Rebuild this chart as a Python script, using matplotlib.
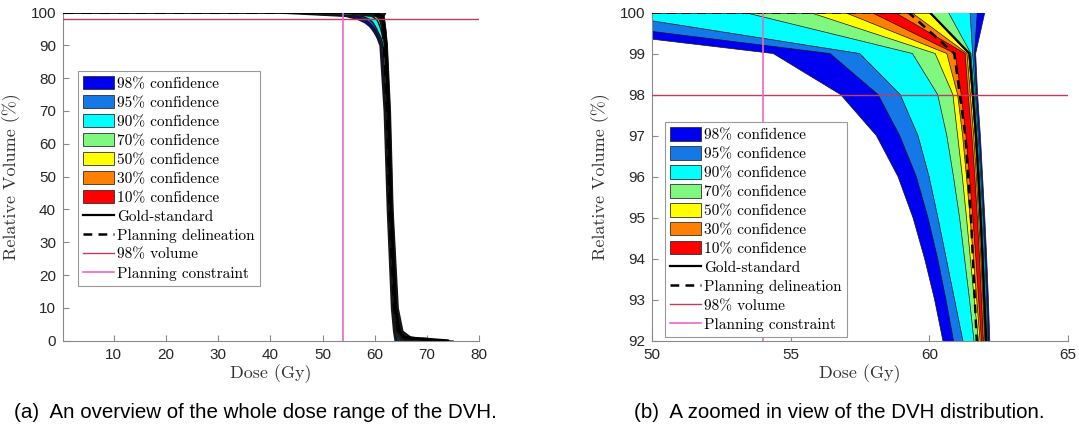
import matplotlib
matplotlib.use("Agg")
import matplotlib.pyplot as plt
from matplotlib.patches import Patch
from matplotlib.lines import Line2D

# Relative volume levels (%) at which the dose quantiles are tabulated
volume = [100, 99, 98, 97, 96, 95, 94, 93, 92, 90, 70, 40, 10, 3, 1, 0]

# Dose (Gy) bounds of each confidence band, lower / upper
lower_98 = [41.9, 54.37, 56.8, 58.09, 58.87, 59.41, 59.83, 60.19, 60.49, 60.95, 61.75, 62.35, 63.15, 63.55, 63.75, 63.85]
upper_98 = [62.0, 61.67, 61.74, 61.84, 61.92, 62.0, 62.07, 62.13, 62.18, 62.3, 62.9, 63.4, 64.4, 65.3, 67.0, 75.0]
lower_95 = [44.5, 56.42, 58.15, 58.93, 59.53, 59.95, 60.3, 60.6, 60.87, 61.25, 61.95, 62.5, 63.3, 63.75, 64.0, 64.2]
upper_95 = [61.73, 61.63, 61.7, 61.8, 61.89, 61.96, 62.03, 62.09, 62.14, 62.24, 62.8, 63.32, 64.25, 65.1, 66.5, 72.0]
lower_90 = [48.1, 57.49, 58.95, 59.59, 59.99, 60.31, 60.61, 60.91, 61.21, 61.5, 62.1, 62.6, 63.45, 63.95, 64.3, 64.6]
upper_90 = [61.47, 61.56, 61.66, 61.76, 61.85, 61.93, 62.0, 62.06, 62.11, 62.21, 62.75, 63.25, 64.15, 64.95, 66.1, 70.0]
lower_70 = [53.35, 59.39, 60.3, 60.63, 60.87, 61.09, 61.27, 61.45, 61.61, 61.8, 62.3, 62.75, 63.6, 64.15, 64.6, 65.0]
upper_70 = [60.69, 61.5, 61.62, 61.72, 61.81, 61.89, 61.96, 62.02, 62.08, 62.18, 62.7, 63.2, 64.05, 64.8, 65.8, 68.5]
lower_50 = [55.7, 60.21, 60.85, 61.02, 61.19, 61.34, 61.48, 61.62, 61.77, 61.9, 62.4, 62.85, 63.7, 64.3, 64.85, 65.4]
upper_50 = [60.0, 61.41, 61.54, 61.65, 61.74, 61.82, 61.9, 61.96, 62.02, 62.12, 62.63, 63.1, 63.95, 64.65, 65.5, 67.5]
lower_30 = [56.96, 60.63, 61.02, 61.2, 61.34, 61.47, 61.59, 61.71, 61.83, 61.95, 62.45, 62.9, 63.75, 64.4, 65.0, 65.8]
upper_30 = [59.36, 61.36, 61.48, 61.6, 61.7, 61.78, 61.86, 61.93, 62.0, 62.1, 62.6, 63.05, 63.9, 64.6, 65.35, 67.0]
lower_10 = [57.92, 60.93, 61.15, 61.32, 61.45, 61.57, 61.68, 61.78, 61.88, 62.0, 62.5, 62.95, 63.8, 64.45, 65.1, 66.2]
upper_10 = [58.76, 61.29, 61.4, 61.53, 61.64, 61.73, 61.81, 61.88, 61.95, 62.05, 62.55, 63.0, 63.85, 64.5, 65.2, 66.6]

# Reference DVHs
gold_standard = [60.02, 61.45, 61.57, 61.68, 61.77, 61.85, 61.92, 61.98, 62.05, 62.16, 62.68, 63.15, 64.0, 64.7, 65.6, 74.0]
planning = [59.25, 60.9, 61.1, 61.3, 61.4, 61.5, 61.57, 61.64, 61.71, 61.85, 62.4, 62.9, 63.8, 64.5, 65.4, 73.0]

band_labels = ["98% confidence", "95% confidence", "90% confidence", "70% confidence",
               "50% confidence", "30% confidence", "10% confidence"]
band_colors = ["#0000f0", "#1478e6", "#00ffff", "#80f880", "#ffff00", "#ff8000", "#ff0000"]
band_lower = [lower_98, lower_95, lower_90, lower_70, lower_50, lower_30, lower_10]
band_upper = [upper_98, upper_95, upper_90, upper_70, upper_50, upper_30, upper_10]

volume_level = 98
constraint_dose = 54

vol_color = "#c43a5c"
con_color = "#ee66c4"
axis_gray = "#8a8a8a"

serif = "cmr10"
sans = "Liberation Sans"

fig = plt.figure(figsize=(10.79, 4.25), dpi=100)


def draw_panel(ax, xlim, ylim, xticks, yticks, legend_anchor, edge_lw, ref_lw):
    x0 = xlim[0]
    for lo, hi, c in zip(band_lower, band_upper, band_colors):
        ax.fill_betweenx(volume, lo, hi, facecolor=c, edgecolor="#151515",
                         linewidth=edge_lw, zorder=2)
    ax.plot([x0] + gold_standard, [100] + volume, color="black", lw=ref_lw, zorder=4)
    ax.plot([x0] + planning, [100] + volume, color="black", lw=ref_lw + 0.2,
            dashes=(3.5, 2.5), zorder=4)
    ax.axhline(volume_level, color=vol_color, lw=1.0, zorder=5)
    ax.axvline(constraint_dose, color=con_color, lw=1.2, zorder=5)

    ax.set_xlim(*xlim)
    ax.set_ylim(*ylim)
    ax.set_xticks(xticks)
    ax.set_yticks(yticks)
    for s in ("top", "right"):
        ax.spines[s].set_visible(False)
    for s in ("left", "bottom"):
        ax.spines[s].set_color(axis_gray)
        ax.spines[s].set_linewidth(0.8)
    ax.tick_params(direction="in", length=4, width=0.8, color=axis_gray,
                   labelsize=11, pad=5)
    for lab in ax.get_xticklabels() + ax.get_yticklabels():
        lab.set_fontfamily(sans)
        lab.set_color("#262626")
    ax.set_xlabel("Dose (Gy)", fontfamily=serif, fontsize=13, color="#333333", labelpad=2)
    ax.set_ylabel("Relative Volume (%)", fontfamily=serif, fontsize=13, color="#333333", labelpad=7)

    handles = [Patch(facecolor=c, edgecolor="#303030", linewidth=0.6) for c in band_colors]
    handles += [Line2D([], [], color="black", lw=1.6),
                Line2D([], [], color="black", lw=1.8, dashes=(3.5, 2.5)),
                Line2D([], [], color=vol_color, lw=1.0),
                Line2D([], [], color=con_color, lw=1.2)]
    labels = band_labels + ["Gold-standard", "Planning delineation",
                            "98% volume", "Planning constraint"]
    leg = ax.legend(handles, labels, loc="upper left", bbox_to_anchor=legend_anchor,
                    prop={"family": serif, "size": 11}, frameon=True, fancybox=False,
                    edgecolor="#999999", framealpha=1, borderpad=0.35,
                    handlelength=2.0, handleheight=0.95, handletextpad=0.2,
                    labelspacing=0.27, borderaxespad=0)
    leg.get_frame().set_linewidth(0.8)
    leg.set_zorder(10)


ax1 = fig.add_axes([63 / 1079, 1 - 340.7 / 425, 416 / 1079, 328.2 / 425])
draw_panel(ax1, (0.25, 80), (0, 100), range(10, 81, 10), range(0, 101, 10),
           (0.036, 0.822), edge_lw=1.1, ref_lw=2.0)

ax2 = fig.add_axes([652 / 1079, 1 - 340.7 / 425, 416 / 1079, 328.2 / 425])
draw_panel(ax2, (50, 65), (92, 100), [50, 55, 60, 65], range(92, 101),
           (0.031, 0.666), edge_lw=0.5, ref_lw=1.6)

fig.text(255 / 1079, 1 - 413 / 425, "(a)  An overview of the whole dose range of the DVH.",
         ha="center", va="center", fontfamily=sans, fontsize=14.8)
fig.text(839 / 1079, 1 - 413 / 425, "(b)  A zoomed in view of the DVH distribution.",
         ha="center", va="center", fontfamily=sans, fontsize=14.8)

fig.savefig("out.png", dpi=100)
